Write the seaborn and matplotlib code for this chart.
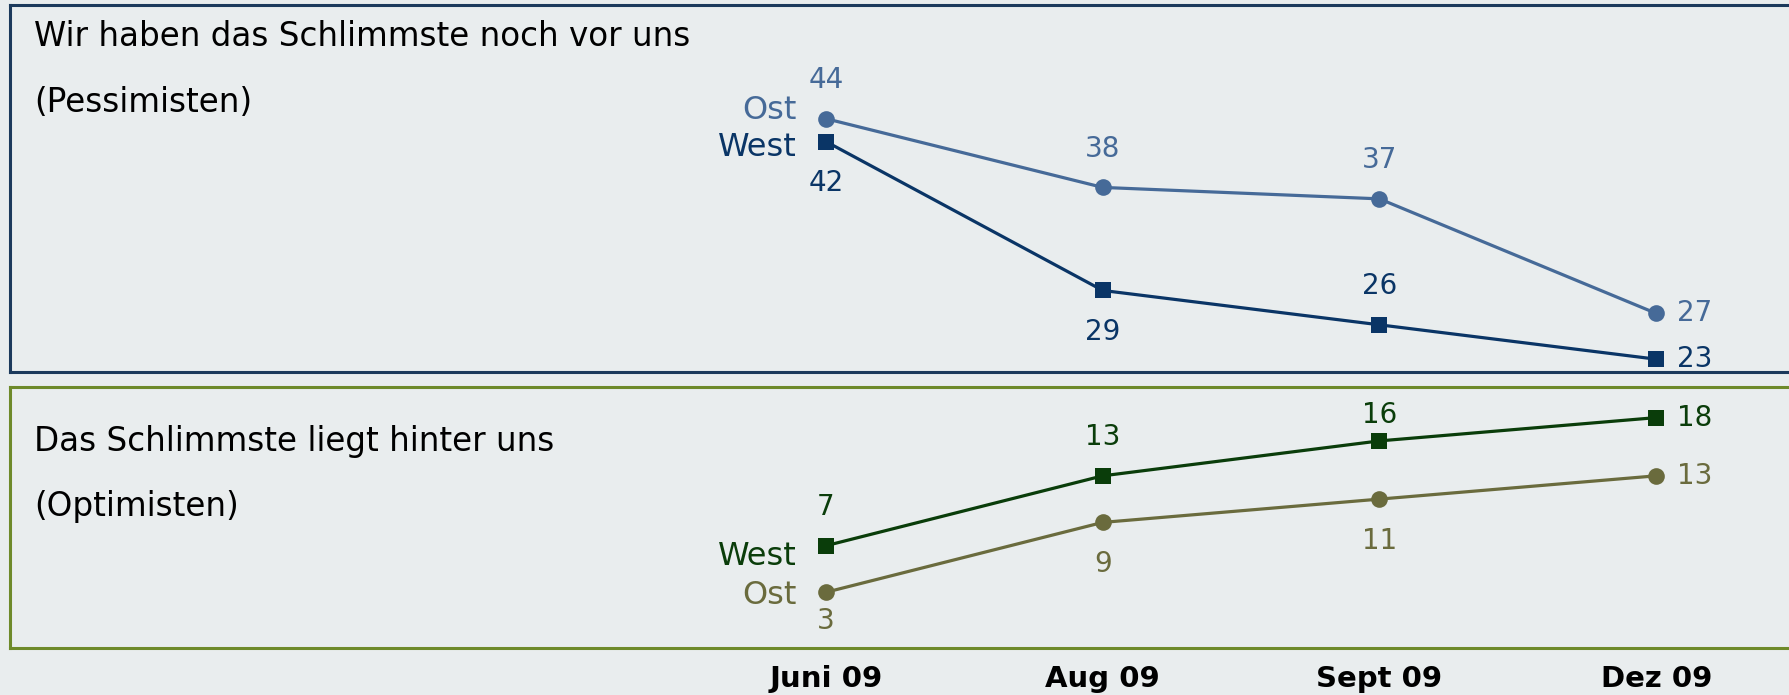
import pandas as pd
import matplotlib.pyplot as plt
import seaborn as sns

# Data
months = ['Juni 09', 'Aug 09', 'Sept 09', 'Dez 09']
pess_ost = [44, 38, 37, 27]
pess_west = [42, 29, 26, 23]
opt_west = [7, 13, 16, 18]
opt_ost = [3, 9, 11, 13]

# where each value label sits relative to its point
pess_ost_pos = ['above', 'above', 'above', 'right']
pess_west_pos = ['below', 'below', 'above', 'right']
opt_west_pos = ['above', 'above', 'above_near', 'right']
opt_ost_pos = ['below_near', 'below', 'below', 'right']

bg = '#E9EDEE'
sns.set_style('white')
plt.rcParams['font.family'] = ['DejaVu Sans']

W, H = 1789, 695
fig = plt.figure(figsize=(W / 100, H / 100), dpi=100, facecolor=bg)

offsets = {'above': (0, 28), 'above_near': (0, 19), 'below': (0, -30),
           'below_near': (0, -21), 'right': (15, 0)}


def panel(ax, series, colors, border, ylim):
    rows = []
    for name, vals, _ in series:
        for m, v in zip(months, vals):
            rows.append({'month': m, 'value': v, 'region': name})
    df = pd.DataFrame(rows)
    sns.lineplot(data=df, x='month', y='value', hue='region', style='region',
                 markers={'Ost': 'o', 'West': 's'}, dashes=False,
                 palette=colors, markersize=12, markeredgewidth=0,
                 linewidth=2.3, legend=False, ax=ax)
    for name, vals, pos in series:
        c = colors[name]
        for i, (v, p) in enumerate(zip(vals, pos)):
            ha = 'left' if p == 'right' else 'center'
            ax.annotate(str(v), (i, v), xytext=offsets[p], textcoords='offset points',
                        ha=ha, va='center', fontsize=20, color=c)
    ax.set_facecolor(bg)
    ax.set_xlim(-2.949, 3.545)
    ax.set_ylim(*ylim)
    ax.set_yticks([])
    ax.set_xlabel('')
    ax.set_ylabel('')
    for s in ax.spines.values():
        s.set_color(border)
        s.set_linewidth(2.2)


# top panel: pessimists
ax1 = fig.add_axes([10 / W, 1 - 372 / H, 1797 / W, 367 / H])
top_colors = {'Ost': '#466A98', 'West': '#0A3566'}
panel(ax1, [('Ost', pess_ost, pess_ost_pos), ('West', pess_west, pess_west_pos)],
      top_colors, '#1C3A5C', (21.88, 53.93))
ax1.set_xticks([])
ax1.annotate('Ost', (0, pess_ost[0]), xytext=(-21, 6), textcoords='offset points',
             ha='right', va='center', fontsize=23, color=top_colors['Ost'])
ax1.annotate('West', (0, pess_west[0]), xytext=(-21, -4), textcoords='offset points',
             ha='right', va='center', fontsize=23, color=top_colors['West'])

# bottom panel: optimists
ax2 = fig.add_axes([10 / W, 1 - 648 / H, 1797 / W, 261 / H])
bot_colors = {'Ost': '#6A6B3D', 'West': '#0A3D0A'}
panel(ax2, [('West', opt_west, opt_west_pos), ('Ost', opt_ost, opt_ost_pos)],
      bot_colors, '#6E8A2A', (-1.79, 20.63))
ax2.set_xticks(range(len(months)))
ax2.set_xticklabels(months, fontsize=21, fontweight='bold', color='black')
ax2.tick_params(axis='x', length=0, pad=12)
ax2.annotate('West', (0, opt_west[0]), xytext=(-21, -8), textcoords='offset points',
             ha='right', va='center', fontsize=23, color=bot_colors['West'])
ax2.annotate('Ost', (0, opt_ost[0]), xytext=(-21, -2), textcoords='offset points',
             ha='right', va='center', fontsize=23, color=bot_colors['Ost'])

# panel captions
fig.text(34 / W, 1 - 36.5 / H, 'Wir haben das Schlimmste noch vor uns',
         fontsize=23.5, va='center', ha='left', color='black')
fig.text(34 / W, 1 - 102.7 / H, '(Pessimisten)',
         fontsize=23.5, va='center', ha='left', color='black')
fig.text(34 / W, 1 - 441.6 / H, 'Das Schlimmste liegt hinter uns',
         fontsize=23.5, va='center', ha='left', color='black')
fig.text(34 / W, 1 - 506.6 / H, '(Optimisten)',
         fontsize=23.5, va='center', ha='left', color='black')

plt.savefig('out.png', dpi=100, facecolor=bg)
plt.close()
